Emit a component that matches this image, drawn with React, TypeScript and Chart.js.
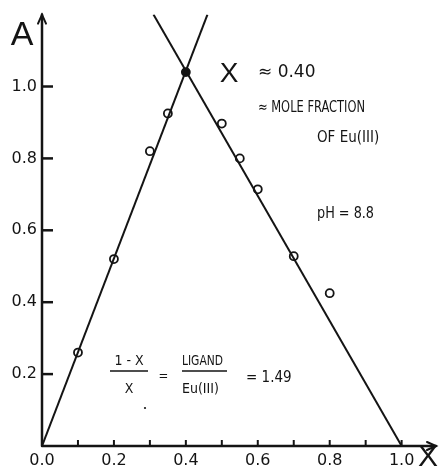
import React, { useEffect, useRef } from 'react';
import { Chart, registerables } from 'chart.js';

Chart.register(...registerables);

// Mole fraction of Eu(III) and measured absorbance
const moleFractionX = [0.1, 0.2, 0.3, 0.35, 0.4, 0.5, 0.55, 0.6, 0.7, 0.8];
const absorbanceA = [0.26, 0.52, 0.82, 0.925, 1.04, 0.897, 0.8, 0.714, 0.528, 0.425];
const filledPoint = [false, false, false, false, true, false, false, false, false, false];

// Straight-line fits (end points)
const leftLineX = [0, 0.46];
const leftLineY = [0, 1.2];
const rightLineX = [1.0, 0.31];
const rightLineY = [0, 1.2];

const xTickLabels = ['0.0', '0.2', '0.4', '0.6', '0.8', '1.0'];
const yTickLabels = ['0.2', '0.4', '0.6', '0.8', '1.0'];

const INK = '#141414';
const NARROW = "'Liberation Sans Narrow', 'DejaVu Sans Condensed', 'Liberation Sans', sans-serif";
const TICKFONT = "'DejaVu Sans', sans-serif";

const annotationPlugin = {
  id: 'annotations',
  afterDraw(chart: any) {
    const ctx = chart.ctx as CanvasRenderingContext2D;
    const xs = chart.scales.x;
    const ys = chart.scales.y;
    const x0 = xs.getPixelForValue(0);
    const y0 = ys.getPixelForValue(0);
    const top = chart.chartArea.top;
    const right = chart.chartArea.right;
    ctx.save();
    ctx.strokeStyle = INK;
    ctx.fillStyle = INK;
    ctx.lineCap = 'round';

    // axes
    ctx.lineWidth = 2.5;
    ctx.beginPath();
    ctx.moveTo(x0, y0);
    ctx.lineTo(x0, top);
    ctx.moveTo(x0, y0);
    ctx.lineTo(right + 2, y0);
    ctx.stroke();
    // arrow heads
    ctx.lineWidth = 2;
    ctx.beginPath();
    ctx.moveTo(x0 - 4, top + 9);
    ctx.lineTo(x0, top);
    ctx.lineTo(x0 + 4, top + 9);
    ctx.moveTo(right - 7, y0 - 4);
    ctx.lineTo(right + 2, y0);
    ctx.lineTo(right - 7, y0 + 4);
    ctx.stroke();

    // inward y ticks
    ctx.lineWidth = 2.5;
    ctx.lineCap = 'butt';
    ys.ticks.forEach((t: any) => {
      if (t.value <= 0 || t.value > 1.01) return;
      const py = ys.getPixelForValue(t.value);
      ctx.beginPath();
      ctx.moveTo(x0, py);
      ctx.lineTo(x0 + 11, py);
      ctx.stroke();
    });
    // upward x ticks
    ctx.lineWidth = 2;
    xs.ticks.forEach((t: any) => {
      if (t.value <= 0 || t.value > 1.01) return;
      const px = xs.getPixelForValue(t.value);
      ctx.beginPath();
      ctx.moveTo(px, y0);
      ctx.lineTo(px, y0 - 6);
      ctx.stroke();
    });

    const text = (s: string, x: number, y: number, font: string, align: CanvasTextAlign = 'left', maxW?: number) => {
      ctx.font = font;
      ctx.textAlign = align;
      ctx.textBaseline = 'middle';
      if (maxW) ctx.fillText(s, x, y, maxW);
      else ctx.fillText(s, x, y);
    };

    // axis titles
    text('A', 22, 36, "34px 'Liberation Sans', sans-serif", 'center');
    text('X', 428, 458, "30px 'Liberation Sans', sans-serif", 'center');

    // X = 0.40 block
    text('X', 229, 74, "28px 'Liberation Sans', sans-serif", 'center');
    text('\u2248 0.40', 258, 73, "17px " + TICKFONT, 'left', 59);
    text('\u2248 MOLE FRACTION', 258, 108, "15px " + NARROW, 'left', 107);
    text('OF Eu(III)', 317, 138, "15px " + NARROW, 'left', 70);
    text('pH = 8.8', 317, 214, "15px " + NARROW, 'left', 57);

    // ratio formula
    text('1 - X', 129, 361, "14px " + NARROW, 'center', 38);
    text('X', 129, 389, "14px " + NARROW, 'center');
    text('=', 163.5, 377, "13px " + NARROW, 'center');
    text('LIGAND', 182, 361, "14px " + NARROW, 'left', 41);
    text('Eu(III)', 182, 389, "14px " + NARROW, 'left', 48);
    text('= 1.49', 246, 378, "15px " + NARROW, 'left', 49);
    ctx.lineWidth = 1.6;
    ctx.beginPath();
    ctx.moveTo(110, 371);
    ctx.lineTo(148, 371);
    ctx.moveTo(182, 371);
    ctx.lineTo(227, 371);
    ctx.stroke();
    ctx.beginPath();
    ctx.arc(145, 408, 1.1, 0, Math.PI * 2);
    ctx.fill();

    ctx.restore();
  },
};

export default function App() {
  const canvasRef = useRef<HTMLCanvasElement | null>(null);

  useEffect(() => {
    document.body.style.margin = '0';
    const canvas = canvasRef.current;
    if (!canvas) return;

    const points = moleFractionX.map((x, i) => ({ x, y: absorbanceA[i] }));
    const leftLine = leftLineX.map((x, i) => ({ x, y: leftLineY[i] }));
    const rightLine = rightLineX.map((x, i) => ({ x, y: rightLineY[i] }));

    const chart = new Chart(canvas, {
      type: 'scatter',
      data: {
        datasets: [
          {
            label: 'left fit',
            data: leftLine,
            showLine: true,
            borderColor: INK,
            borderWidth: 2,
            pointRadius: 0,
            fill: false,
          },
          {
            label: 'right fit',
            data: rightLine,
            showLine: true,
            borderColor: INK,
            borderWidth: 2,
            pointRadius: 0,
            fill: false,
          },
          {
            label: 'absorbance',
            data: points,
            showLine: false,
            pointRadius: 4,
            pointBorderWidth: 1.8,
            pointBorderColor: INK,
            pointBackgroundColor: filledPoint.map((f) => (f ? INK : 'rgba(0,0,0,0)')),
          },
        ],
      },
      options: {
        responsive: false,
        animation: false,
        layout: { padding: { top: 14, right: 7, left: 0, bottom: 0 } },
        plugins: {
          legend: { display: false },
          tooltip: { enabled: false },
        },
        scales: {
          x: {
            type: 'linear',
            min: 0,
            max: 1.09,
            grid: { display: false, drawTicks: false },
            border: { display: false },
            afterFit: (scale: any) => {
              scale.height = 23;
            },
            ticks: {
              stepSize: 0.1,
              includeBounds: false,
              autoSkip: false,
              maxRotation: 0,
              padding: 5,
              color: INK,
              font: { family: TICKFONT, size: 16 },
              callback: (v: any) => {
                const s = Number(v).toFixed(1);
                return xTickLabels.includes(s) ? s : '';
              },
            },
          },
          y: {
            type: 'linear',
            min: 0,
            max: 1.2,
            grid: { display: false, drawTicks: false },
            border: { display: false },
            afterFit: (scale: any) => {
              scale.width = 42;
            },
            ticks: {
              stepSize: 0.2,
              includeBounds: false,
              autoSkip: false,
              padding: 5,
              color: INK,
              font: { family: TICKFONT, size: 16 },
              callback: (v: any) => {
                const s = Number(v).toFixed(1);
                return yTickLabels.includes(s) ? s : '';
              },
            },
          },
        },
      },
      plugins: [annotationPlugin],
    });

    return () => chart.destroy();
  }, []);

  return (
    <div style={{ width: 441, height: 469, position: 'relative', background: '#fff' }}>
      <canvas ref={canvasRef} width={441} height={469} style={{ display: 'block' }} />
    </div>
  );
}
